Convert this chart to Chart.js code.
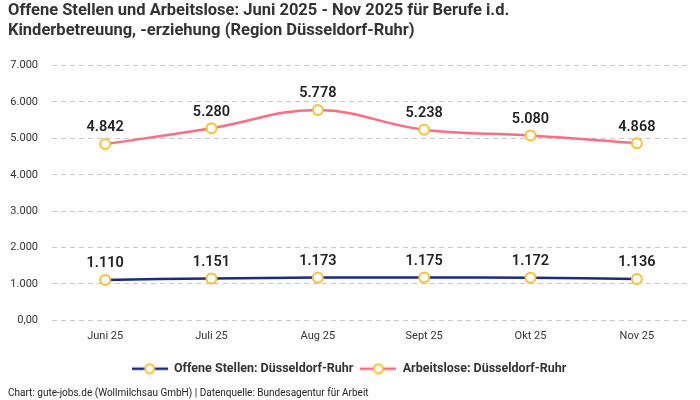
<!DOCTYPE html>
<html>
<head>
<meta charset="utf-8">
<script src="https://cdn.jsdelivr.net/npm/chart.js@4/dist/chart.umd.min.js"></script>
<style>
  html, body { margin: 0; padding: 0; background: #fff; }
  #wrap { width: 700px; height: 400px; }
</style>
</head>
<body>
<div id="wrap"><canvas id="chart"></canvas></div>
<script>
var months = ['Juni 25', 'Juli 25', 'Aug 25', 'Sept 25', 'Okt 25', 'Nov 25'];
var offeneStellen = [1110, 1151, 1173, 1175, 1172, 1136];
var arbeitslose = [4842, 5280, 5778, 5238, 5080, 4868];
var seriesNames = ['Offene Stellen: Düsseldorf-Ruhr', 'Arbeitslose: Düsseldorf-Ruhr'];
var titleLines = ['Offene Stellen und Arbeitslose: Juni 2025 - Nov 2025 für Berufe i.d.', 'Kinderbetreuung, -erziehung (Region Düsseldorf-Ruhr)'];
var footerText = 'Chart: gute-jobs.de (Wollmilchsau GmbH) | Datenquelle: Bundesagentur für Arbeit';

var fontFamily = "Roboto, 'Noto Sans', sans-serif";
var pointColor = '#fbc02d';

function fmt(v) {
	if (v === 0) return '0,00';
	return v.toLocaleString('de-DE');
}

// legend symbol: line with ring in the middle
function legendIcon(color) {
	var c = document.createElement('canvas');
	c.width = 36; c.height = 12;
	var ctx = c.getContext('2d');
	ctx.strokeStyle = color;
	ctx.lineWidth = 2.5;
	ctx.beginPath(); ctx.moveTo(0, 6); ctx.lineTo(36, 6); ctx.stroke();
	ctx.fillStyle = '#fff';
	ctx.strokeStyle = pointColor;
	ctx.lineWidth = 2;
	ctx.beginPath(); ctx.arc(18, 6, 4.5, 0, Math.PI * 2); ctx.fill(); ctx.stroke();
	return c;
}

var valueLabels = {
	id: 'valueLabels',
	afterDatasetsDraw: function(chart) {
		var ctx = chart.ctx;
		ctx.save();
		ctx.font = '600 14.5px ' + fontFamily;
		ctx.fillStyle = '#222';
		ctx.textAlign = 'center';
		ctx.textBaseline = 'bottom';
		chart.data.datasets.forEach(function(ds, i) {
			chart.getDatasetMeta(i).data.forEach(function(pt, j) {
				ctx.fillText(fmt(ds.data[j]), pt.x, pt.y - 9);
			});
		});
		ctx.restore();
	}
};

var icons = [legendIcon('#1a2a8a'), legendIcon('#ff6b81')];

new Chart(document.getElementById('chart'), {
	type: 'line',
	data: {
		labels: months,
		datasets: [
			{
				label: seriesNames[0],
				data: offeneStellen,
				borderColor: '#1a2a8a',
				borderWidth: 2.5,
				tension: 0.4,
				pointRadius: 5,
				pointBorderWidth: 2,
				pointBackgroundColor: '#fff',
				pointBorderColor: pointColor
			},
			{
				label: seriesNames[1],
				data: arbeitslose,
				borderColor: '#ff6b81',
				borderWidth: 2.5,
				tension: 0.4,
				pointRadius: 5,
				pointBorderWidth: 2,
				pointBackgroundColor: '#fff',
				pointBorderColor: pointColor
			}
		]
	},
	options: {
		responsive: true,
		maintainAspectRatio: false,
		animation: false,
		layout: { padding: { left: 8, right: 10, top: 0, bottom: 0 } },
		scales: {
			x: {
				offset: true,
				grid: { display: false },
				border: { display: false },
				ticks: { color: '#333', font: { family: fontFamily, size: 11 }, padding: 1 },
				afterFit: function(axis) { axis.height += 12; }
			},
			y: {
				min: 0,
				max: 7000,
				ticks: {
					stepSize: 1000,
					color: '#333',
					font: { family: fontFamily, size: 11 },
					padding: 14,
					callback: function(v) { return fmt(v); }
				},
				afterFit: function(axis) { axis.width = 44; },
				grid: { color: '#c8c8c8', drawTicks: false },
				border: { display: false, dash: [5, 4] }
			}
		},
		plugins: {
			title: {
				display: true,
				text: titleLines,
				align: 'start',
				color: '#333',
				font: { family: fontFamily, size: 16.5, weight: 'bold', lineHeight: 1.2 },
				padding: { top: 1, bottom: 25 }
			},
			subtitle: {
				display: true,
				text: footerText,
				position: 'bottom',
				align: 'start',
				color: '#222',
				font: { family: fontFamily, size: 10 },
				padding: { top: 2, bottom: 1 }
			},
			legend: {
				position: 'bottom',
				labels: {
					usePointStyle: true,
					pointStyleWidth: 36,
					boxHeight: 12,
					color: '#333',
					font: { family: fontFamily, size: 12.5, weight: 'bold' },
					padding: 7,
					generateLabels: function(chart) {
						return chart.data.datasets.map(function(ds, i) {
							return {
								text: ds.label,
								pointStyle: icons[i],
								fontColor: '#333',
								datasetIndex: i,
								hidden: false,
								lineWidth: 0
							};
						});
					}
				}
			},
			tooltip: { enabled: false }
		}
	},
	plugins: [valueLabels]
});
</script>
</body>
</html>
